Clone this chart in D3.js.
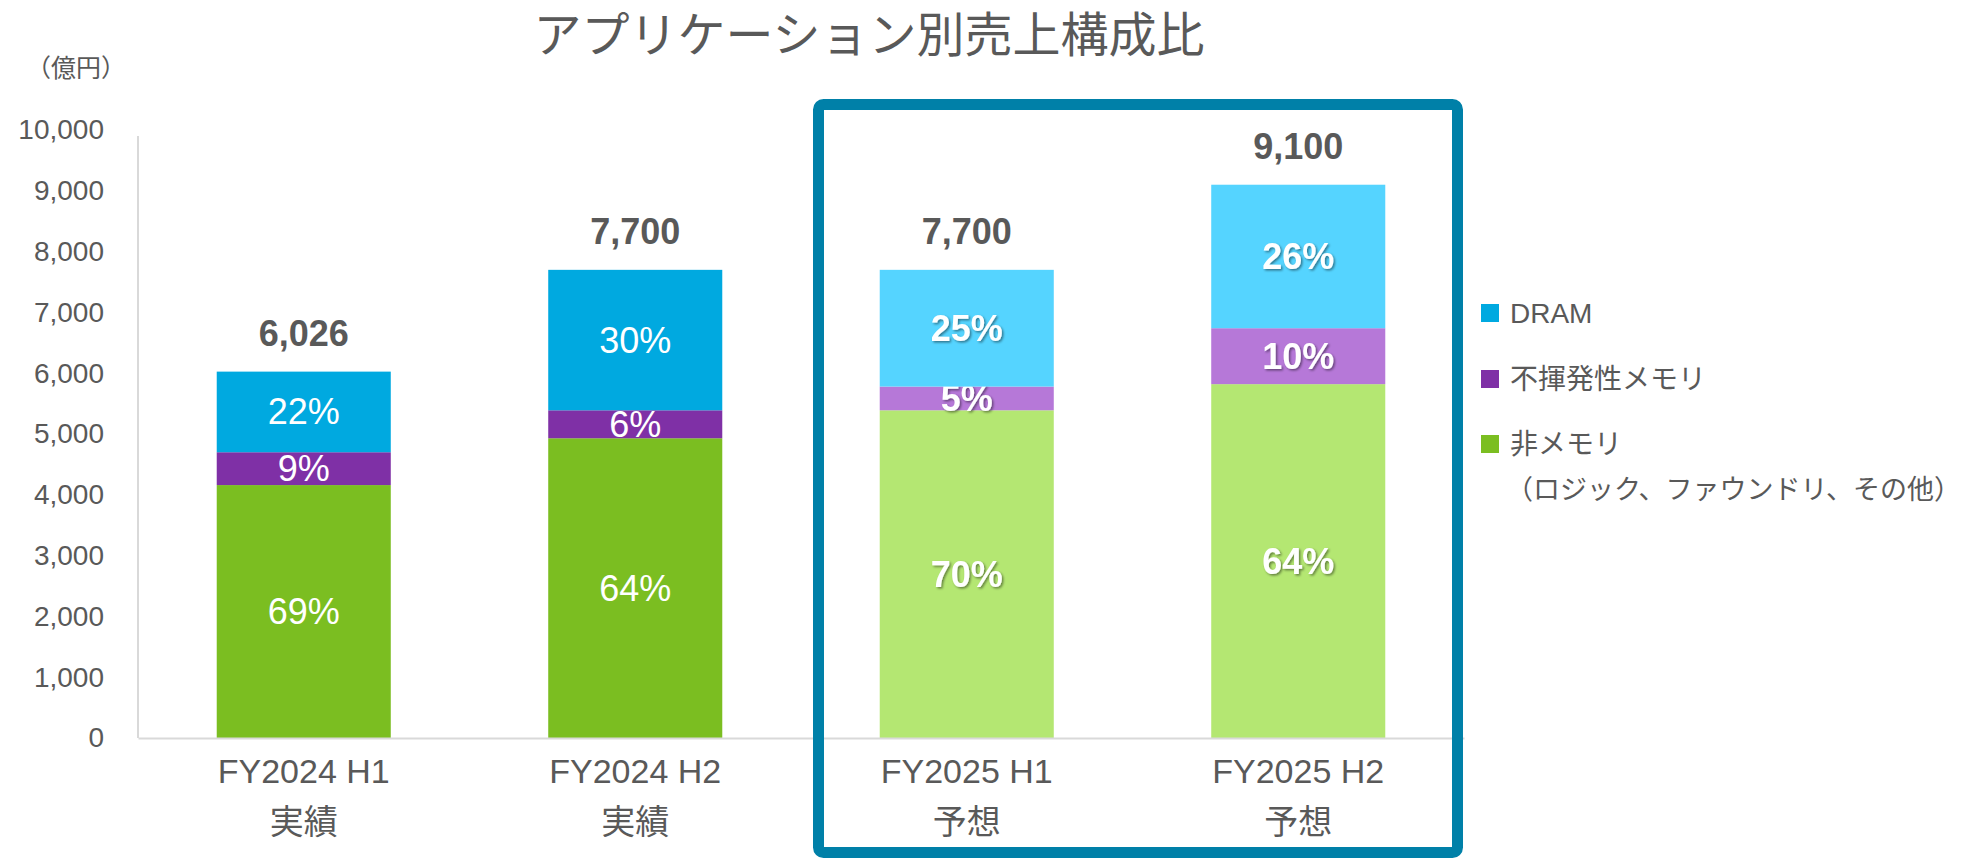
<!DOCTYPE html>
<html>
<head>
<meta charset="utf-8">
<script src="https://cdn.jsdelivr.net/npm/d3@7"></script>
<style>
  body { margin: 0; background: #fff; }
  svg text { font-family: "Liberation Sans", Arial, "Noto Sans CJK JP", sans-serif; fill: #595959; }
</style>
</head>
<body>
<svg width="1973" height="859"></svg>
<script>
// data (億円)
var categories = ["FY2024 H1", "FY2024 H2", "FY2025 H1", "FY2025 H2"];
var subLabels = ["実績", "実績", "予想", "予想"];
var nonMemory = [4160, 4930, 5390, 5820];
var nonVolatile = [540, 460, 390, 920];
var dram = [1326, 2310, 1920, 2360];
var totals = [6026, 7700, 7700, 9100];
var nonMemoryPct = ["69%", "64%", "70%", "64%"];
var nonVolatilePct = ["9%", "6%", "5%", "10%"];
var dramPct = ["22%", "30%", "25%", "26%"];
var yTicks = [0, 1000, 2000, 3000, 4000, 5000, 6000, 7000, 8000, 9000, 10000];
var legendNames = ["DRAM", "不揮発性メモリ", "非メモリ"];

var svg = d3.select("svg");

// kleuren: donker = actual, licht = forecast
var colors = {
    nonMemory: ["#7BBE21", "#B4E772"],
    nonVolatile: ["#7F30A6", "#B678D8"],
    dram: ["#00A9E0", "#55D4FF"]
};
var pctLabels = { nonMemory: nonMemoryPct, nonVolatile: nonVolatilePct, dram: dramPct };

var table = categories.map(function (c, i) {
    return { cat: c, i: i, nonMemory: nonMemory[i], nonVolatile: nonVolatile[i], dram: dram[i] };
});
var keys = ["nonMemory", "nonVolatile", "dram"];
var stacked = d3.stack().keys(keys)(table);

var x = d3.scaleBand().domain(categories).range([138, 1464]).paddingInner(0.475).paddingOuter(0.2375),
    y = d3.scaleLinear().domain([0, 10000]).range([738, 130]);

// schaduw voor de forecast labels
var defs = svg.append("defs");
defs.append("filter").attr("id", "shadow")
    .attr("x", "-20%").attr("y", "-20%").attr("width", "140%").attr("height", "140%")
    .append("feDropShadow")
    .attr("dx", 1.5).attr("dy", 1.5).attr("stdDeviation", 1.2)
    .attr("flood-color", "#000").attr("flood-opacity", 0.45);

// titel
svg.append("text")
    .attr("x", 869).attr("y", 35)
    .attr("text-anchor", "middle").attr("dominant-baseline", "central")
    .style("font-size", "48px")
    .text("アプリケーション別売上構成比");

svg.append("text")
    .attr("x", 76).attr("y", 68)
    .attr("text-anchor", "middle").attr("dominant-baseline", "central")
    .style("font-size", "25px")
    .text("（億円）");

// Y as
var yAxis = svg.append("g")
    .attr("transform", "translate(138,0)")
    .call(d3.axisLeft(y).tickValues(yTicks).tickSize(0).tickPadding(34).tickFormat(d3.format(",")));
yAxis.select(".domain").remove();
yAxis.selectAll("text").style("font-size", "28px").attr("fill", "#595959");
svg.append("line")
    .attr("x1", 138).attr("x2", 138).attr("y1", y(10000) + 6).attr("y2", y(0))
    .attr("stroke", "#D9D9D9").attr("stroke-width", 2);

// balken
var layer = svg.selectAll(".layer")
    .data(stacked)
    .enter().append("g")
    .attr("class", "layer");

layer.selectAll("rect")
    .data(function (s) { return s.map(function (d) { d.key = s.key; return d; }); })
    .enter().append("rect")
    .attr("x", function (d) { return x(d.data.cat); })
    .attr("y", function (d) { return y(d[1]); })
    .attr("width", x.bandwidth())
    .attr("height", function (d) { return y(d[0]) - y(d[1]); })
    .attr("fill", function (d) { return colors[d.key][d.data.i >= 2 ? 1 : 0]; });

// percentages in de segmenten
layer.selectAll(".pct")
    .data(function (s) { return s; })
    .enter().append("text")
    .attr("class", "pct")
    .attr("x", function (d) { return x(d.data.cat) + x.bandwidth() / 2; })
    .attr("y", function (d) { return (y(d[0]) + y(d[1])) / 2; })
    .attr("text-anchor", "middle").attr("dominant-baseline", "central")
    .style("font-size", "36px")
    .style("font-weight", function (d) { return d.data.i >= 2 ? "bold" : "normal"; })
    .style("fill", "#fff")
    .attr("filter", function (d) { return d.data.i >= 2 ? "url(#shadow)" : null; })
    .text(function (d) { return pctLabels[d.key][d.data.i]; });

// totalen boven de balken
svg.selectAll(".total")
    .data(totals)
    .enter().append("text")
    .attr("class", "total")
    .attr("x", function (d, i) { return x(categories[i]) + x.bandwidth() / 2; })
    .attr("y", function (d) { return y(d) - 38; })
    .attr("text-anchor", "middle").attr("dominant-baseline", "central")
    .style("font-size", "36px").style("font-weight", "bold")
    .text(d3.format(","));

// X as
var xAxis = svg.append("g")
    .attr("transform", "translate(0," + y(0) + ")")
    .call(d3.axisBottom(x).tickSize(0).tickSizeOuter(0));
xAxis.select(".domain").attr("stroke", "#D9D9D9").attr("stroke-width", 2);
xAxis.selectAll(".tick text").each(function (d, i) {
    var t = d3.select(this).text(null).attr("y", 0).attr("dy", null)
        .attr("fill", "#595959").style("font-size", "34px");
    t.append("tspan").attr("x", 0).attr("y", 45).text(d);
    t.append("tspan").attr("x", 0).attr("y", 96).text(subLabels[i]);
});

// legenda
var legend = svg.selectAll(".legend")
    .data(legendNames)
    .enter().append("g")
    .attr("class", "legend")
    .attr("transform", function (d, i) { return "translate(1481," + [313, 379, 444][i] + ")"; });
legend.append("rect")
    .attr("x", 0).attr("y", -9).attr("width", 18).attr("height", 18)
    .attr("fill", function (d, i) { return colors[keys[2 - i]][0]; });
legend.append("text")
    .attr("x", 29).attr("y", 0).attr("dominant-baseline", "central")
    .style("font-size", "28px")
    .text(function (d) { return d; });
svg.append("text")
    .attr("x", 1506).attr("y", 490).attr("dominant-baseline", "central")
    .style("font-size", "27px")
    .text("（ロジック、ファウンドリ、その他）");

// kader rond de forecast
svg.append("rect")
    .attr("x", 818.5).attr("y", 104.5).attr("width", 639).attr("height", 748)
    .attr("rx", 5)
    .attr("fill", "none").attr("stroke", "#0080A8").attr("stroke-width", 11);
</script>
</body>
</html>
